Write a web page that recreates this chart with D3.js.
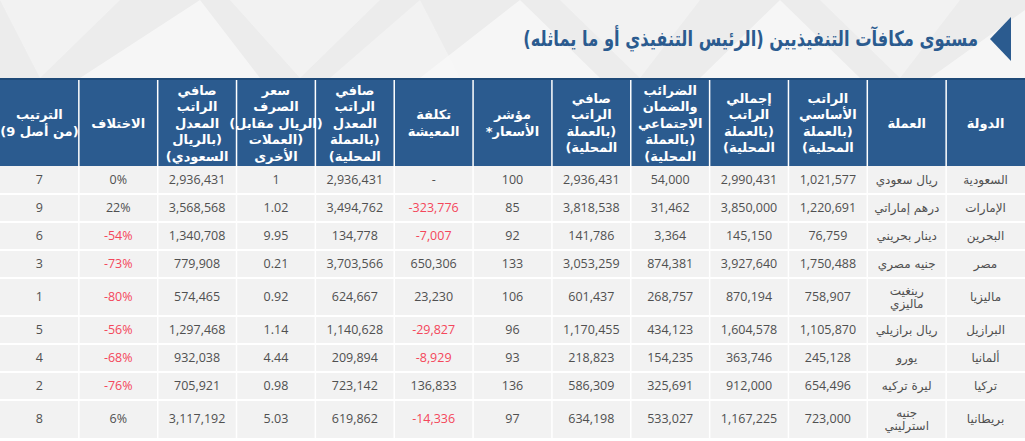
<!DOCTYPE html>
<html><head><meta charset="utf-8">
<script src="https://cdn.jsdelivr.net/npm/d3@7"></script>
<style>html,body{margin:0;padding:0;background:#fff;overflow:hidden}</style>
</head><body><svg id="c" width="1025" height="441"></svg>
<script>
// ---------------- data ----------------
const title = "مستوى مكافآت التنفيذيين (الرئيس التنفيذي أو ما يماثله)";
const countries = ["السعودية","الإمارات","البحرين","مصر","ماليزيا","البرازيل","ألمانيا","تركيا","بريطانيا"];
const currencies = ["ريال سعودي","درهم إماراتي","دينار بحريني","جنيه مصري","رينغيت\nماليزي","ريال برازيلي","يورو","ليرة تركيه","جنيه\nاسترليني"];
const basicSalary = [1021577,1220691,76759,1750488,758907,1105870,245128,654496,723000];
const grossSalary = [2990431,3850000,145150,3927640,870194,1604578,363746,912000,1167225];
const taxes = [54000,31462,3364,874381,268757,434123,154235,325691,533027];
const netSalary = [2936431,3818538,141786,3053259,601437,1170455,218823,586309,634198];
const priceIndex = [100,85,92,133,106,96,93,136,97];
const costOfLiving = [null,-323776,-7007,650306,23230,-29827,-8929,136833,-14336];
const adjustedLocal = [2936431,3494762,134778,3703566,624667,1140628,209894,723142,619862];
const exchangeRate = [1,1.02,9.95,0.21,0.92,1.14,4.44,0.98,5.03];
const adjustedSAR = [2936431,3568568,1340708,779908,574465,1297468,932038,705921,3117192];
const difference = [0,22,-54,-73,-80,-56,-68,-76,6];
const rank = [7,9,6,3,1,5,4,2,8];
const headers = [
  ["الدولة"],
  ["العملة"],
  ["الراتب","الأساسي","(بالعملة","المحلية)"],
  ["إجمالي","الراتب","(بالعملة","المحلية)"],
  ["الضرائب","والضمان","الاجتماعي","(بالعملة","المحلية)"],
  ["صافي","الراتب","(بالعملة","المحلية)"],
  ["مؤشر","الأسعار*"],
  ["تكلفة","المعيشة"],
  ["صافي","الراتب","المعدل","(بالعملة","المحلية)"],
  ["سعر","الصرف","(الريال مقابل)","(العملات","الأخرى"],
  ["صافي","الراتب","المعدل","(بالريال","السعودي)"],
  ["الاختلاف"],
  ["الترتيب","(من أصل 9)"]
];

// ---------------- style ----------------
const W = 1025, H = 441;
const BLUE = "#2b5b8f", RED = "#f4475b", TXT = "#505050", CELL = "#f2f2f2";
const headTop = 78, headBot = 166;
const numFont = "'Open Sans', 'DejaVu Sans', sans-serif";
const arFont = "'DejaVu Sans', sans-serif";

const loc = d3.formatLocale({decimal: ".", thousands: ",", grouping: [3], currency: ["", ""], minus: "-"});
const fmtInt = loc.format(",");
const fmt2 = loc.format(".2f");
const cols = [
  {vals: countries, f: v => v, ar: true},
  {vals: currencies, f: v => v, ar: true},
  {vals: basicSalary, f: fmtInt},
  {vals: grossSalary, f: fmtInt},
  {vals: taxes, f: fmtInt},
  {vals: netSalary, f: fmtInt},
  {vals: priceIndex, f: fmtInt},
  {vals: costOfLiving, f: v => v == null ? "-" : fmtInt(v), red: v => v != null && v < 0},
  {vals: adjustedLocal, f: fmtInt},
  {vals: exchangeRate, f: v => Number.isInteger(v) ? String(v) : fmt2(v)},
  {vals: adjustedSAR, f: fmtInt},
  {vals: difference, f: v => v + "%", red: v => v < 0},
  {vals: rank, f: v => String(v)}
];

const svg = d3.select("#c");

// ---------------- title band ----------------
const bg = svg.append("g");
bg.append("rect").attr("x",0).attr("y",0).attr("width",W).attr("height",headTop).attr("fill","#ececec");
const tris = [
  [[0,0],[120,0],[40,78]], [[80,78],[200,0],[260,78]], [[230,0],[380,0],[300,78]],
  [[420,78],[520,0],[600,78]], [[560,0],[700,0],[640,78]], [[700,78],[780,0],[860,78]],
  [[820,0],[960,0],[900,78]], [[930,78],[1025,10],[1025,78]], [[330,78],[420,0],[460,78]]
];
bg.selectAll("polygon").data(tris).join("polygon")
  .attr("points", d => d.map(p => p.join(",")).join(" "))
  .attr("fill", (d,i) => i % 2 ? "#ffffff" : "#f7f7f7").attr("opacity", 0.55);

svg.append("path").attr("d","M990,39 L1011,17 L1011,61 Z").attr("fill",BLUE);
const tt = svg.append("text").attr("x",0).attr("y",46)
  .attr("direction","rtl")
  .attr("font-family",arFont).attr("font-weight","bold").attr("font-size",21)
  .attr("fill",BLUE).text(title);
const bb = tt.node().getBBox();
const sx = 455 / bb.width;
tt.attr("transform", `translate(${978 - sx*(bb.x + bb.width)},0) scale(${sx},1)`);

// ---------------- scales ----------------
const x = d3.scaleBand().domain(d3.range(cols.length)).range([W, 0]);
const lines = currencies.map(c => c.split("\n").length);
const rowH = lines.map(n => n > 1 ? 38 : 28);
const tops = rowH.map((h,i) => headBot + d3.sum(rowH.slice(0,i)));
const y = d3.scaleOrdinal().domain(countries).range(tops);
const hOf = d3.scaleOrdinal().domain(countries).range(rowH);

// ---------------- header ----------------
svg.append("rect").attr("x",0).attr("y",headTop).attr("width",W).attr("height",headBot-headTop).attr("fill",BLUE);
svg.append("rect").attr("x",0).attr("y",headTop).attr("width",W).attr("height",2).attr("fill","#1f4a78");
const hc = (headTop + headBot) / 2 + 1;
const hg = svg.append("g").selectAll("text").data(headers).join("text")
  .attr("direction","rtl").attr("text-anchor","middle")
  .attr("font-family",arFont).attr("font-weight","bold").attr("font-size",13)
  .attr("fill","#ffffff");
hg.each(function(lns, ci){
  const t = d3.select(this);
  const cx = x(ci) + x.bandwidth()/2;
  t.selectAll("tspan").data(lns).join("tspan")
    .attr("x", cx)
    .attr("y", (d,i) => hc + (i - (lns.length-1)/2) * 16.5)
    .attr("dy","0.35em")
    .text(d => d);
});

// ---------------- body ----------------
const body = svg.append("g");
body.selectAll("rect.row").data(countries).join("rect").attr("class","row")
  .attr("x",0).attr("width",W).attr("y", d => y(d)).attr("height", d => hOf(d)).attr("fill",CELL);

cols.forEach((col, ci) => {
  const g = body.append("g");
  const cx = x(ci) + x.bandwidth()/2;
  g.selectAll("text").data(col.vals).join("text")
    .attr("text-anchor","middle")
    .attr("direction", col.ar ? "rtl" : "ltr")
    .attr("font-family", col.ar ? arFont : numFont)
    .attr("font-size", col.ar ? 12 : 12.5)
    .attr("fill", v => col.red && col.red(v) ? RED : TXT)
    .each(function(v, ri){
      const c = countries[ri];
      const mid = y(c) + hOf(c)/2;
      const parts = String(col.f(v)).split("\n");
      d3.select(this).selectAll("tspan").data(parts).join("tspan")
        .attr("x", cx)
        .attr("y", (d,i) => mid + (i - (parts.length-1)/2) * 13)
        .attr("dy","0.35em")
        .text(d => d);
    });
});

// ---------------- grid lines ----------------
const grid = svg.append("g").attr("stroke","#ffffff");
grid.selectAll("line.v").data(d3.range(1, cols.length)).join("line").attr("class","v")
  .attr("x1", i => x(i) + x.bandwidth()).attr("x2", i => x(i) + x.bandwidth())
  .attr("y1", headTop + 2).attr("y2", headBot + d3.sum(rowH))
  .attr("stroke-width", 1.5);
grid.selectAll("line.h").data(countries.slice(1)).join("line").attr("class","h")
  .attr("x1",0).attr("x2",W).attr("y1", d => y(d)).attr("y2", d => y(d))
  .attr("stroke-width", 2);
</script>
</body></html>
